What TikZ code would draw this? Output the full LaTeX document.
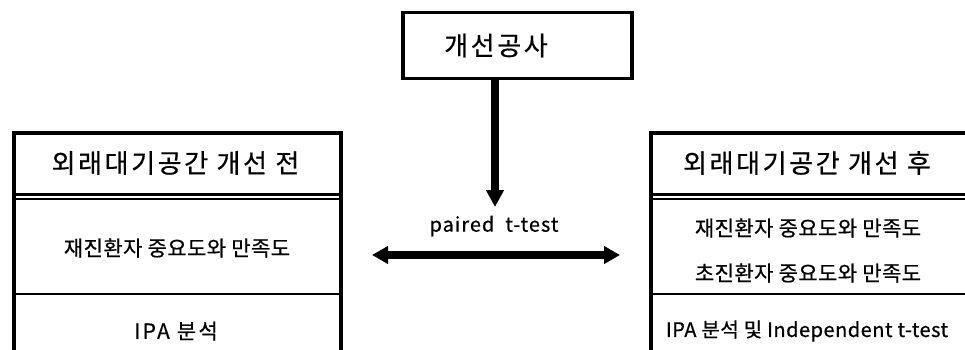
\documentclass[tikz,border=0pt]{standalone}
\usepackage{fontspec}
\setmainfont{Noto Sans CJK KR}
\newfontfamily\hdrfont[LetterSpace=10,FakeBold=0.6]{Noto Sans CJK KR}
\newfontfamily\itemfont[LetterSpace=2,FakeBold=0.6]{Noto Sans CJK KR}
\newfontfamily\spacedfont[LetterSpace=11,FakeBold=0.6]{Noto Sans CJK KR}
\newfontfamily\widefont[LetterSpace=2.5,FakeBold=0.6]{Noto Sans CJK KR}
\newfontfamily\testfont[LetterSpace=5,FakeBold=0.6]{Noto Sans CJK KR}
\usetikzlibrary{arrows.meta}
\tikzset{
  box/.style={draw, line width=3.5pt, inner sep=0pt},
  hdr/.style={font=\hdrfont\fontsize{26}{26}\selectfont, inner sep=0pt},
  item/.style={font=\itemfont\fontsize{21}{21}\selectfont, inner sep=0pt},
  spaceditem/.style={font=\spacedfont\fontsize{21}{21}\selectfont, inner sep=0pt},
  wideitem/.style={font=\widefont\fontsize{20}{20}\selectfont, inner sep=0pt},
  testlabel/.style={font=\testfont\fontsize{20}{20}\selectfont, inner sep=0pt},
  bigarrow/.style={line width=7.5pt},
  thickrule/.style={line width=3pt},
  thinrule/.style={line width=1.5pt},
  midrule/.style={line width=2pt},
}
\begin{document}
\begin{tikzpicture}[x=1pt,y=-1pt]
\useasboundingbox (0,0) rectangle (965,349);
% boxes
\node[box, minimum width=327pt, minimum height=240pt, anchor=north west] (before) at (12,131) {};
\node[box, minimum width=320pt, minimum height=240pt, anchor=north west] (after) at (649,131) {};
\node[box, minimum width=229pt, minimum height=66pt] (work) at (517.5,45.5) {};
\node[hdr] (worktext) at (496,45.5) {개선공사};
% rules
\draw[thickrule] (before.west |- 0,194.5) -- (before.east |- 0,194.5);
\draw[thinrule] (before.west |- 0,199) -- (before.east |- 0,199);
\draw[midrule] (before.west |- 0,293.5) -- (before.east |- 0,293.5);
\draw[thickrule] (after.west |- 0,194.5) -- (after.east |- 0,194.5);
\draw[thinrule] (after.west |- 0,199) -- (after.east |- 0,199);
\draw[midrule] (after.west |- 0,293.5) -- (after.east |- 0,293.5);
% texts
\node[hdr] (bh) at (175.5,163) {외래대기공간 개선 전};
\node[item] (b1) at (177,248) {재진환자 중요도와 만족도};
\node[spaceditem] (b2) at (176,331) {IPA 분석};
\node[hdr] (ah) at (807,163) {외래대기공간 개선 후};
\node[item] (a1) at (808,228) {재진환자 중요도와 만족도};
\node[item] (a2) at (808,273) {초진환자 중요도와 만족도};
\node[wideitem] (a3) at (807,331) {IPA 분석 및 Independent t-test};
% arrows
\coordinate (vt) at (495,207);
\draw[line width=8pt, -{Triangle[length=17pt,width=17pt]}] (work.south -| vt) -- (vt);
\coordinate (hl) at (372,255);
\coordinate (hr) at (620,255);
\draw[bigarrow, {Triangle[length=16pt,width=17pt]}-{Triangle[length=16pt,width=17pt]}] (hl) -- (hr);
\node[testlabel] (pt) at (494,226) {paired\ \ t-test};
\end{tikzpicture}
\end{document}
